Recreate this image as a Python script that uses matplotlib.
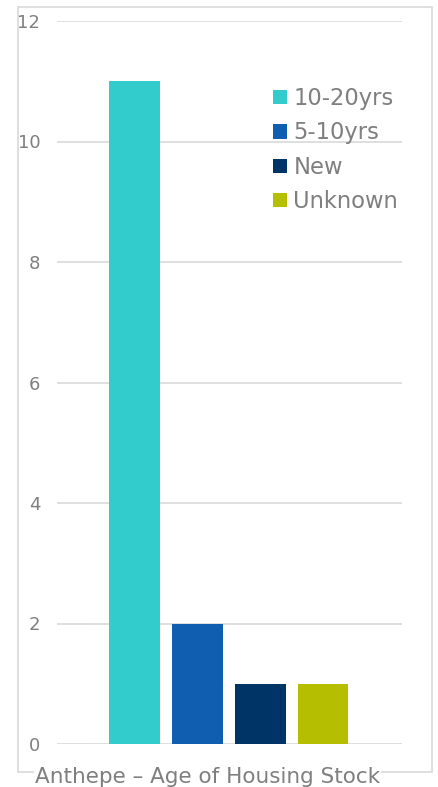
import matplotlib.pyplot as plt
from matplotlib.patches import Patch, Rectangle

# housing stock age counts for Anthepe
categories = ["10-20yrs", "5-10yrs", "New", "Unknown"]
counts = [11, 2, 1, 1]
colors = ["#33CCCC", "#105EB0", "#003366", "#B5BF00"]
yticks = [0, 2, 4, 6, 8, 10, 12]

W, H = 438, 787
fig = plt.figure(figsize=(W / 100, H / 100), dpi=100)
fig.patch.set_facecolor("white")

# outer chart border
fig.add_artist(Rectangle((18 / W, 1 - 772 / H), (432 - 18) / W, (772 - 7) / H,
                         transform=fig.transFigure, fill=False,
                         edgecolor="#D9D9D9", linewidth=1.2))

ax = fig.add_axes([57 / W, 1 - 744 / H, (402 - 57) / W, (744 - 21) / H])
x = list(range(len(categories)))
ax.bar(x, counts, width=0.8, color=colors, zorder=3)

ax.set_xlim(-1.23, 4.25)
ax.set_ylim(0, 12)
ax.set_yticks(yticks)
ax.set_yticklabels([str(t) for t in yticks])
ax.set_xticks([])
ax.yaxis.grid(True, color="#D9D9D9", linewidth=1.2, zorder=0)
ax.tick_params(axis="y", length=0, pad=12, labelsize=13, labelcolor="#7F7F7F")
for s in ax.spines.values():
    s.set_visible(False)

handles = [Patch(facecolor=c, edgecolor="none") for c in colors]
fig.legend(handles, categories, loc="upper left",
           bbox_to_anchor=(264 / W, 1 - 78 / H), frameon=False,
           fontsize=16.3, labelcolor="#7F7F7F", handlelength=0.6,
           handleheight=0.6, handletextpad=0.3, labelspacing=0.5,
           borderaxespad=0)

fig.text(35 / W, 1 - 777 / H, "Anthepe \u2013 Age of Housing Stock",
         fontsize=15.5, color="#7F7F7F", ha="left", va="center",
         bbox=dict(facecolor="white", edgecolor="none", pad=1))

fig.savefig("out.png", dpi=100)
